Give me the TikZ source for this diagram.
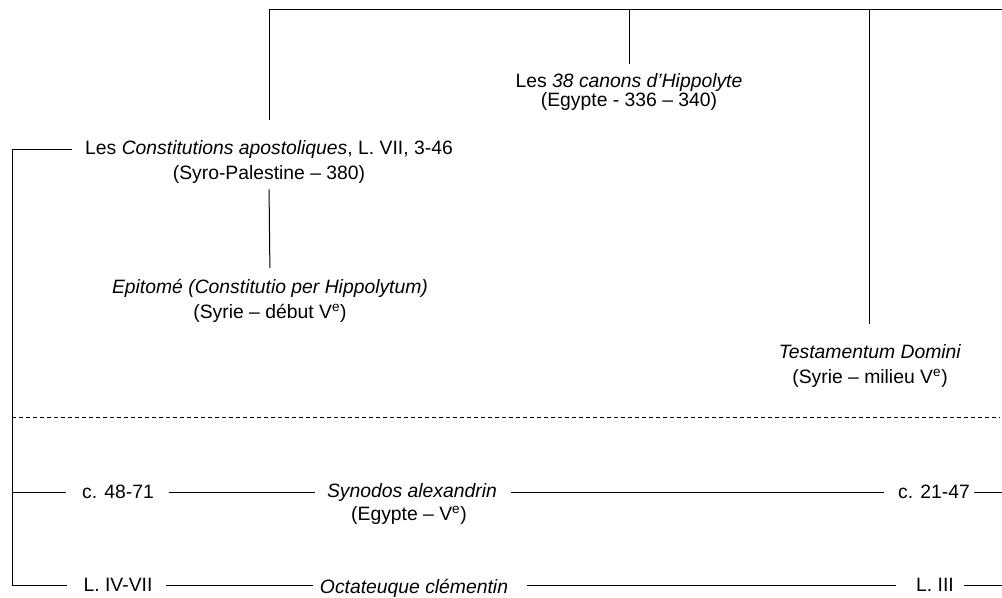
\documentclass[tikz,border=0pt]{standalone}
\usepackage{fontspec}
\setmainfont{Liberation Sans}
\usepackage{tikz}

\newcommand\tightfont{\fontsize{14.5}{14.25}\selectfont\lineskiplimit=-5pt\relax}
\tikzset{
  txt/.style={inner sep=0pt, font=\fontsize{14.5}{18.75}\selectfont, align=center},
  tight/.style={txt, font=\tightfont},
  lbl/.style={inner sep=0pt, font=\fontsize{14.5}{17}\selectfont},
}

\begin{document}
\begin{tikzpicture}[x=0.75pt,y=0.75pt,yscale=-1,xscale=1, line width=0.75pt]
\useasboundingbox (0,0) rectangle (1002,597);

%Points of the upper frame
\coordinate (t1) at (269,9);
\coordinate (t2) at (629,9);
\coordinate (t3) at (869,9);
\coordinate (tr) at (1002,9);
\coordinate (lft) at (12,149);
\coordinate (cw) at (72,149);
\coordinate (r1) at (1002,492);
\coordinate (r2) at (1002,585);

% Text Node
\node[tight] (canons) at (629,92) {Les \textit{38 canons d’Hippolyte}\\(Egypte - 336 -- 340)};
% Text Node
\node[txt] (constit) at (269,162) {Les \textit{Constitutions apostoliques}, L. VII, 3-46\\(Syro-Palestine -- 380)};
% Text Node
\node[txt] (epitome) at (270,301) {\textit{Epitomé (Constitutio per Hippolytum)}\\(Syrie -- début V\textsuperscript{e})};
% Text Node
\node[txt] (testament) at (870,366) {\textit{Testamentum Domini}\\(Syrie -- milieu V\textsuperscript{e})};
% Text Node
\node[lbl] (c4871) at (118,492) {c. 48-71};
\node[lbl] (synodos) at (412,492) {\textit{Synodos alexandrin}};
\node[lbl] (synloc) at (409,515) {(Egypte -- V\textsuperscript{e})};
\node[lbl] (c2147) at (934,492) {c. 21-47};
% Text Node
\node[lbl] (l47) at (118,585) {L. IV-VII};
\node[lbl] (octa) at (414,588) {\textit{Octateuque clémentin}};
\node[lbl] (l3) at (935,585) {L. III};

%Shape: upper frame
\draw (tr) -- (t1);
\draw[shorten >=15pt] (t1) -- (t1 |- constit.north);
\draw[shorten >=7pt] (t2) -- (t2 |- canons.north);
\draw[shorten >=15pt] (t3) -- (t3 |- testament.north);
\draw[shorten <=4pt, shorten >=8pt] (constit.south) -- (epitome.north);

%Shape: left frame
\draw (cw) -- (lft) |- ([xshift=-12pt]l47.west);
\draw (lft |- c4871) -- ([xshift=-12pt]c4871.west);

%Shape: dashed separation
\draw[dash pattern=on 3pt off 2.25pt] (12,417) -- (1000,417);

%Shape: rows
\draw ([xshift=11pt]c4871.east) -- ([xshift=-9pt]synodos.west);
\draw ([xshift=10pt]synodos.east) -- ([xshift=-10pt]c2147.west);
\draw ([xshift=3pt]c2147.east) -- (r1);
\draw ([xshift=10pt]l47.east) -- ([xshift=-5pt]octa.west |- l47);
\draw ([xshift=14pt]octa.east |- l47) -- ([xshift=-15pt]l3.west);
\draw ([xshift=7pt]l3.east) -- (r2);

\end{tikzpicture}
\end{document}
